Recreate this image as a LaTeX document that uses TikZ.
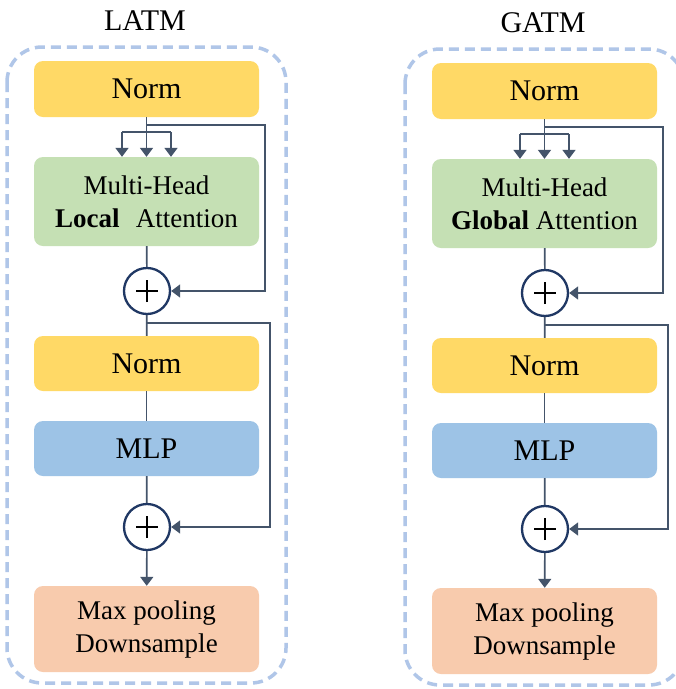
\documentclass[tikz,border=0pt]{standalone}
\usepackage{fontspec}
\setmainfont{Liberation Serif}
\usetikzlibrary{arrows.meta,calc}
\definecolor{normc}{HTML}{FFD966}
\definecolor{attc}{HTML}{C5E0B4}
\definecolor{mlpc}{HTML}{9DC3E6}
\definecolor{poolc}{HTML}{F8CBAD}
\definecolor{framec}{HTML}{B0C6E8}
\definecolor{linec}{HTML}{44546A}
\definecolor{circc}{HTML}{203864}
\tikzset{
  blk/.style={rounded corners=9pt, minimum width=225pt, inner sep=0pt, align=center, text=black},
  bigtxt/.style={font=\fontsize{30}{36}\selectfont},
  smalltxt/.style={font=\fontsize{27}{33}\selectfont},
  conn/.style={draw=linec, line width=1.7pt},
  arr/.style={conn, -{Triangle[width=13pt,length=9pt]}},
  addc/.style={circle, draw=circc, line width=2.3pt, fill=white, minimum size=46pt, inner sep=0pt,
    path picture={\draw[black,line width=1.4pt] (path picture bounding box.center) ++(-11pt,0) -- ++(22pt,0);
                  \draw[black,line width=1.4pt] (path picture bounding box.center) ++(0,-11pt) -- ++(0,22pt);}},
  framebox/.style={draw=framec, line width=3.5pt, dash pattern=on 10pt off 6pt, rounded corners=35pt},
  titletxt/.style={font=\fontsize{30}{36}\selectfont, text=black}
}
\newcommand\drawpanel[3]{%
  \node[titletxt] (#1t) at (145,21) {#2};
  \draw[framebox] (7,47) rectangle (286,683);
  \node[blk,fill=normc,bigtxt,minimum height=56pt] (#1n1) at (146.5,89) {Norm};
  \node[blk,fill=attc,smalltxt,minimum height=89pt] (#1att) at (146.5,201.5) {Multi-Head\\#3};
  \node[addc] (#1p1) at (147,291) {};
  \node[blk,fill=normc,bigtxt,minimum height=55pt] (#1n2) at (146.5,363.5) {Norm};
  \node[blk,fill=mlpc,bigtxt,minimum height=55pt] (#1mlp) at (146.5,448.5) {MLP};
  \node[addc] (#1p2) at (147,527) {};
  \node[blk,fill=poolc,smalltxt,minimum height=86pt] (#1pool) at (146.5,629) {Max pooling\\Downsample};
  \coordinate (#1r1) at (265,125);
  \coordinate (#1hl) at (122,132);
  \coordinate (#1hr) at (171,132);
  \coordinate (#1r2) at (270,323);
  \draw[arr] (#1n1.south) -- (#1n1.south |- #1att.north);
  \draw[arr] (#1n1.south |- #1r1) -- (#1r1) |- (#1p1.east);
  \draw[conn] (#1hl) -- (#1hr);
  \draw[arr] (#1hl) -- (#1hl |- #1att.north);
  \draw[arr] (#1hr) -- (#1hr |- #1att.north);
  \draw[conn] (#1att) -- (#1p1);
  \draw[conn] (#1p1) -- (#1n2);
  \draw[arr] (#1p1.south |- #1r2) -- (#1r2) |- (#1p2.east);
  \draw[conn] (#1n2) -- (#1mlp);
  \draw[conn] (#1mlp) -- (#1p2);
  \draw[arr] (#1p2) -- (#1pool);
}
\begin{document}
\begin{tikzpicture}[x=1pt,y=-1pt]
  \useasboundingbox (0,0) rectangle (676,689);
  \fill[white] (0,0) rectangle (676,689);
  \drawpanel{L}{LATM}{\textbf{Local}\hspace{0.6em}Attention}
  \begin{scope}[shift={(398,2)}]
    \drawpanel{R}{GATM}{\textbf{Global} Attention}
  \end{scope}
\end{tikzpicture}
\end{document}
